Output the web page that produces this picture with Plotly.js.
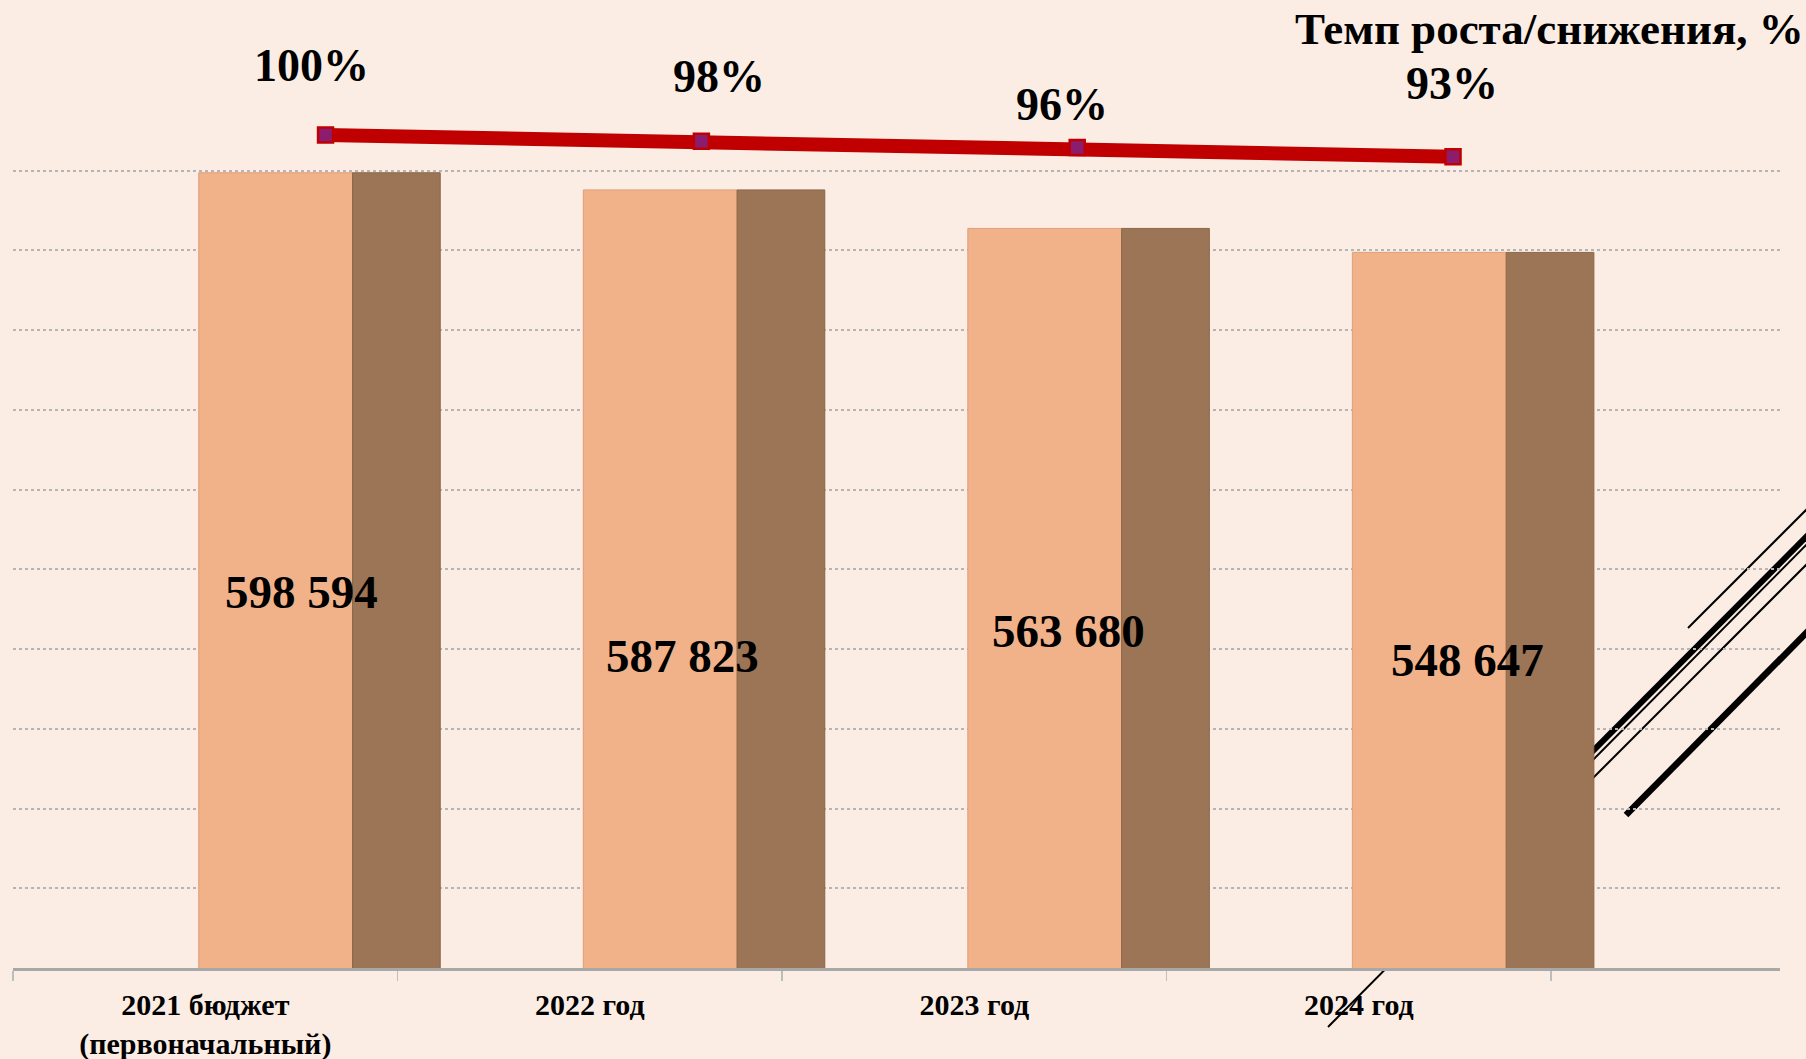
<!DOCTYPE html>
<html><head><meta charset="utf-8">
<script src="https://cdn.plot.ly/plotly-3.0.1.min.js"></script>
<style>html,body{margin:0;padding:0;background:#FBEDE3;}#chart{width:1806px;height:1059px;}</style>
</head><body><div id="chart"></div>
<script>
// ---- data ----
const categories = ['2021 бюджет<br>(первоначальный)', '2022 год', '2023 год', '2024 год'];
const amounts = [598594, 587823, 563680, 548647];
const amountLabels = ['598 594', '587 823', '563 680', '548 647'];
const growthRates = [100, 98, 96, 93];
const growthLabels = ['100%', '98%', '96%', '93%'];
const rateTitle = 'Темп роста/снижения, %';
const yTickValues = [100000, 150000, 200000, 250000, 300000, 350000, 400000, 450000, 500000, 550000, 600000];

// ---- style / layout constants ----
const W = 1806, H = 1059;
const M = {l: 13, r: 26, t: 11, b: 91};
const plotW = W - M.l - M.r, plotH = H - M.t - M.b;
const px2x = p => (p - M.l) / plotW;
const px2y = p => (H - M.b - p) / plotH;
const BG = '#FBEDE3';
const FONT = 'Liberation Serif, Times New Roman, serif';
const amountLabelShift = [[96, -419], [93, -466], [94, -403], [109, -408]];
const rateLabelShift = [[-14, 70], [18, 65], [-15, 43], [-1, 73]];

const front = {
  type: 'bar', x: categories, y: amounts, offset: -0.017, width: 0.40,
  marker: {color: '#F1B28A', line: {color: '#DE9F78', width: 1}},
  hoverinfo: 'skip', showlegend: false
};
const side = {
  type: 'bar', x: categories, y: amounts, offset: 0.383, width: 0.228,
  marker: {color: '#9C7456', line: {color: '#8C6749', width: 1}},
  hoverinfo: 'skip', showlegend: false
};
const rateLine = {
  type: 'scatter', mode: 'lines+markers', x: categories, y: growthRates,
  xaxis: 'x2', yaxis: 'y2',
  line: {color: '#C00000', width: 14},
  marker: {symbol: 'square', size: 15, color: '#8B1C6E', line: {color: '#C00000', width: 2.5}},
  cliponaxis: false, hoverinfo: 'skip', showlegend: false
};

const annotations = [];
amounts.forEach((v, i) => {
  annotations.push({
    xref: 'x', yref: 'y', x: i, y: v, text: amountLabels[i], showarrow: false,
    xshift: amountLabelShift[i][0], yshift: amountLabelShift[i][1],
    xanchor: 'center', yanchor: 'middle',
    font: {family: FONT, size: 47, color: '#000', weight: 700}
  });
});
growthRates.forEach((v, i) => {
  annotations.push({
    xref: 'x2', yref: 'y2', x: i, y: v, text: growthLabels[i], showarrow: false,
    xshift: rateLabelShift[i][0], yshift: rateLabelShift[i][1],
    xanchor: 'center', yanchor: 'middle',
    font: {family: FONT, size: 46, color: '#000', weight: 700}
  });
});
annotations.push({
  xref: 'paper', yref: 'paper', x: px2x(1549), y: px2y(29), text: rateTitle, showarrow: false,
  xanchor: 'center', yanchor: 'middle',
  font: {family: FONT, size: 45, color: '#000', weight: 700}
});

// decorative diagonal strokes (slide ornament)
const deco = [
  [[1688, 628], [1830, 486], 2],
  [[1560, 784], [1830, 513], 6],
  [[1328, 1027], [1830, 521], 2],
  [[1560, 811], [1830, 541], 2],
  [[1626, 815], [1830, 609], 6.5]
];
const shapes = deco.map(d => ({
  type: 'line', xref: 'paper', yref: 'paper', layer: 'below',
  x0: px2x(d[0][0]), y0: px2y(d[0][1]), x1: px2x(d[1][0]), y1: px2y(d[1][1]),
  line: {color: '#000', width: d[2]}
}));

const layout = {
  width: W, height: H, autosize: false,
  margin: M,
  paper_bgcolor: BG, plot_bgcolor: 'rgba(0,0,0,0)',
  barmode: 'overlay',
  showlegend: false,
  xaxis: {
    type: 'category', range: [-0.5, 4.095],
    showline: true, linecolor: '#A8A8A8', linewidth: 3,
    ticks: 'outside', tickson: 'boundaries', ticklen: 10, tickwidth: 1.5, tickcolor: '#BDBDBD',
    showgrid: false, zeroline: false,
    tickfont: {family: FONT, size: 30, color: '#000', weight: 700},
    ticklabelstandoff: 8
  },
  yaxis: {
    range: [100000, 700000], tickmode: 'array', tickvals: yTickValues,
    showticklabels: false, showgrid: true, gridcolor: '#B5B5B5', griddash: 'dot', gridwidth: 2,
    zeroline: false, showline: false, ticks: ''
  },
  xaxis2: {
    type: 'category', overlaying: 'x', range: [-0.8316, 3.870],
    showticklabels: false, showgrid: false, zeroline: false, showline: false, ticks: ''
  },
  yaxis2: {
    overlaying: 'y', range: [-168.7, 140.0],
    showticklabels: false, showgrid: false, zeroline: false, showline: false, ticks: ''
  },
  annotations: annotations,
  shapes: shapes
};

Plotly.newPlot('chart', [front, side, rateLine], layout, {displayModeBar: false, staticPlot: true});
</script>
</body></html>
